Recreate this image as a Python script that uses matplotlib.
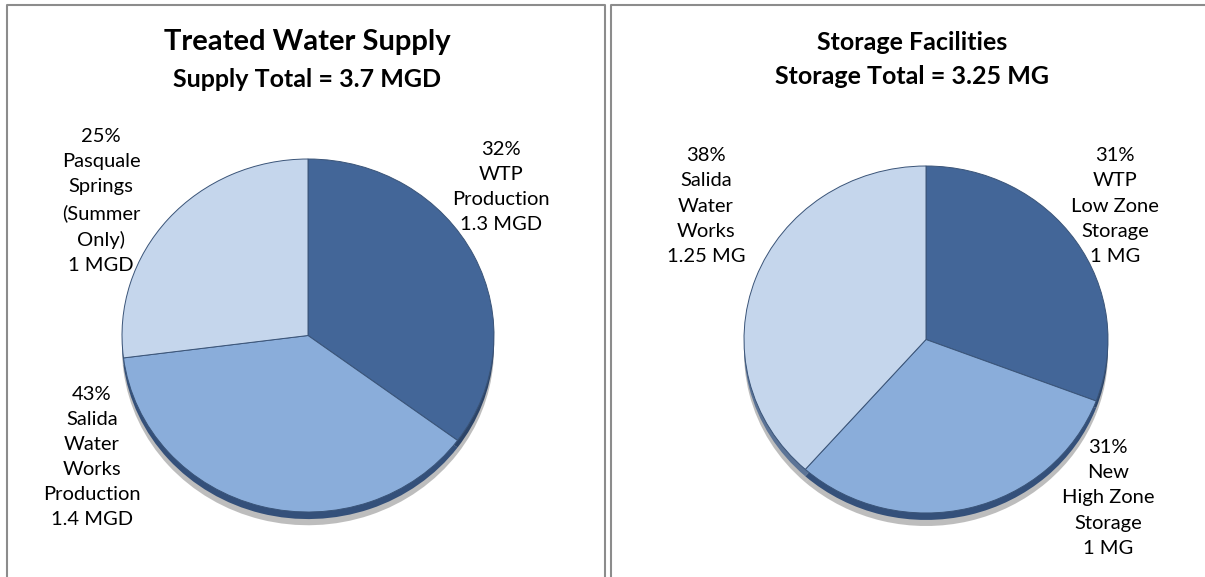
import matplotlib
matplotlib.use("Agg")
import matplotlib.pyplot as plt
from matplotlib.lines import Line2D

plt.rcParams['font.family'] = ['Lato', 'DejaVu Sans']

# Treated water supply (MGD), clockwise from 12 o'clock
supply_names = ["WTP Production", "Salida Water Works Production", "Pasquale Springs (Summer Only)"]
supply_mgd = [1.3, 1.4, 1.0]
supply_labels = ["32%\nWTP\nProduction\n1.3 MGD",
                 "43%\nSalida\nWater\nWorks\nProduction\n1.4 MGD",
                 "25%\nPasquale\nSprings\n(Summer\nOnly)\n1 MGD"]
supply_title = "Treated Water Supply"
supply_subtitle = "Supply Total = 3.7 MGD"

# Storage facilities (MG)
storage_names = ["WTP Low Zone Storage", "New High Zone Storage", "Salida Water Works"]
storage_mg = [1.0, 1.0, 1.25]
storage_labels = ["31%\nWTP\nLow Zone\nStorage\n1 MG",
                  "31%\nNew\nHigh Zone\nStorage\n1 MG",
                  "38%\nSalida\nWater\nWorks\n1.25 MG"]
storage_title = "Storage Facilities"
storage_subtitle = "Storage Total = 3.25 MG"

top_colors = ["#436698", "#8aadda", "#c5d6ec"]
side_colors = ["#2c4468", "#34507a", "#5b7396"]

W, H = 1205, 577
fig = plt.figure(figsize=(W / 100, H / 100), dpi=100)


def px_axes(x0, y0, x1, y1):
    # axes placed by pixel box (top-left origin)
    return fig.add_axes([x0 / W, 1 - y1 / H, (x1 - x0) / W, (y1 - y0) / H])


def px_text(x, y, s, **kw):
    fig.text(x / W, 1 - y / H, s, ha="center", va="center", **kw)


def draw_pie(box, values, label_pos, labels):
    ax = px_axes(*box)
    # drop shadow and tilted side of the pie
    ax.pie(values, colors=["#7d7d7d"] * 3, startangle=90, counterclock=False,
           center=(0, -0.075), radius=1.0, wedgeprops=dict(linewidth=0, alpha=0.5))
    ax.pie(values, colors=side_colors, startangle=90, counterclock=False,
           center=(0, -0.04), radius=1.0, wedgeprops=dict(linewidth=0))
    ax.pie(values, colors=top_colors, startangle=90, counterclock=False,
           radius=1.0, wedgeprops=dict(linewidth=0.7, edgecolor="#3a5478"))
    ax.set_aspect("auto")
    ax.set_xlim(-1, 1)
    ax.set_ylim(-1, 1)
    ax.axis("off")
    for (x, y), s in zip(label_pos, labels):
        px_text(x, y, s, fontsize=14.5, linespacing=1.58, color="black")


# left panel
draw_pie((122, 159, 494, 512), supply_mgd,
         [(501, 187), (92, 457), (101, 201)], supply_labels)
px_text(307, 42, supply_title, fontsize=21, fontweight="bold")
px_text(307, 80, supply_subtitle, fontsize=18, fontweight="bold")

# right panel
draw_pie((744, 166, 1108, 513), storage_mg,
         [(1115, 206), (1108, 498), (706, 206)], storage_labels)
px_text(912, 42, storage_title, fontsize=18, fontweight="bold")
px_text(912, 77, storage_subtitle, fontsize=18, fontweight="bold")

# panel frames
border = dict(color="#8c8c8c", linewidth=1.5, solid_capstyle="butt")
for xs, ys in [([7, 7, 605, 605], [H + 5, 5, 5, H + 5]),
               ([611, 611, W + 5], [H + 5, 5, 5])]:
    fig.add_artist(Line2D([x / W for x in xs], [1 - y / H for y in ys], **border))

fig.savefig("out.png", dpi=100)
